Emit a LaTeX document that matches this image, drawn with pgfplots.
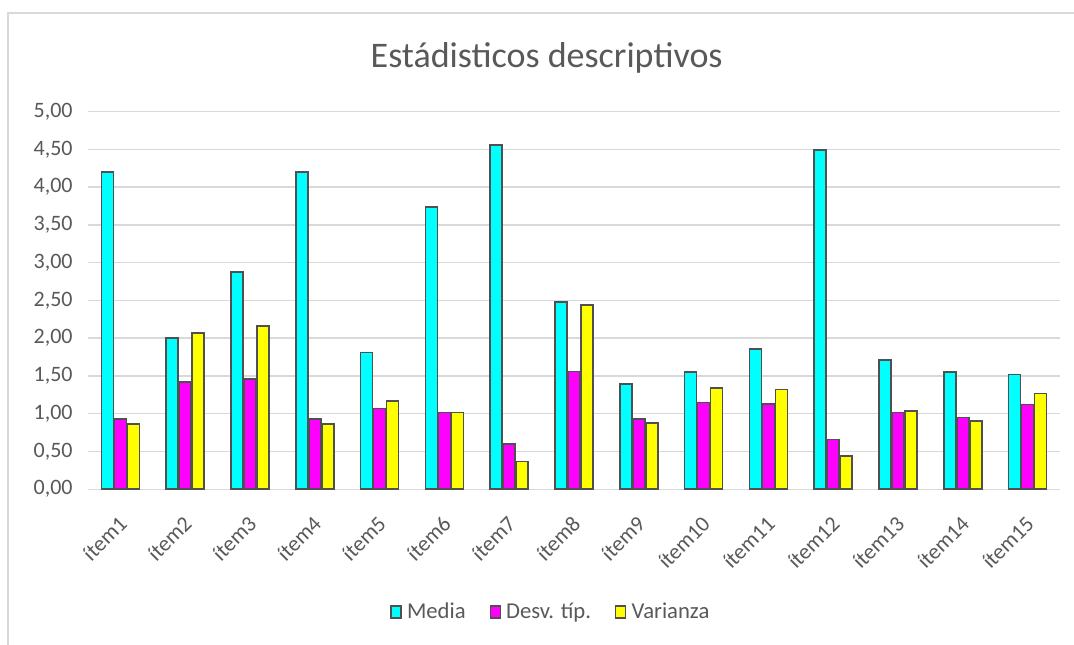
\documentclass[border=0pt]{standalone}
\usepackage{fontspec}
\setmainfont{Carlito}
\usepackage{pgfplots}
\pgfplotsset{compat=1.18}
\definecolor{txt}{RGB}{89,89,89}
\definecolor{gridc}{RGB}{217,217,217}
\definecolor{edge}{RGB}{80,80,80}
\definecolor{cmedia}{RGB}{0,255,255}
\definecolor{cdesv}{RGB}{255,0,255}
\definecolor{cvar}{RGB}{255,255,0}
\begin{document}
\begin{tikzpicture}[x=1pt,y=1pt]
\useasboundingbox (0,0) rectangle (805.5,483.75);
\fill[white] (0,0) rectangle (805.5,483.75);
\draw[gridc,line width=1.5pt] (6,-2) -- (6,474) -- (808,474);
\node[txt,font=\fontsize{27}{32}\selectfont] at (410,440) {Estádisticos descriptivos};
\begin{axis}[
  at={(66pt,116.8pt)}, anchor=south west,
  scale only axis, width=729pt, height=283.2pt,
  ybar=0.75pt, bar width=9pt,
  xmin=0.5, xmax=15.5, ymin=0, ymax=5,
  ytick={0,0.5,1,1.5,2,2.5,3,3.5,4,4.5,5},
  xtick={1,...,15},
  xticklabels={ítem1,ítem2,ítem3,ítem4,ítem5,ítem6,ítem7,ítem8,ítem9,ítem10,ítem11,ítem12,ítem13,ítem14,ítem15},
  ymajorgrids, grid style={gridc,line width=1.1pt},
  axis line style={draw=none},
  major tick length=0pt,
  tick label style={txt,font=\fontsize{16.5}{19}\selectfont},
  yticklabel={\pgfmathprintnumber[fixed,fixed zerofill,precision=2,use comma,assume math mode=true]{\tick}},
  yticklabel style={xshift=-8pt},
  xticklabel style={yshift=-23pt,xshift=2pt,rotate=45,anchor=east,inner sep=0pt},
  every axis plot/.append style={draw=edge,line width=1.2pt},
  legend style={at={(0.478,-0.325)},anchor=center,draw=none,fill=none,
    legend columns=3, font=\fontsize{17}{19}\selectfont, text=txt,
    nodes={inner xsep=4pt},
    /tikz/every even column/.append style={column sep=14pt}},
  legend image code/.code={\draw[#1,line width=0.9pt] (0pt,-4.5pt) rectangle (7.5pt,4.5pt);},
]
\addplot[fill=cmedia] coordinates {(1,4.20) (2,2.00) (3,2.88) (4,4.20) (5,1.81) (6,3.74) (7,4.56) (8,2.48) (9,1.39) (10,1.55) (11,1.86) (12,4.49) (13,1.71) (14,1.55) (15,1.52)};
\addplot[fill=cdesv] coordinates {(1,0.93) (2,1.42) (3,1.46) (4,0.93) (5,1.07) (6,1.015) (7,0.60) (8,1.56) (9,0.93) (10,1.15) (11,1.13) (12,0.66) (13,1.015) (14,0.95) (15,1.12)};
\addplot[fill=cvar] coordinates {(1,0.865) (2,2.07) (3,2.16) (4,0.865) (5,1.165) (6,1.015) (7,0.37) (8,2.44) (9,0.88) (10,1.34) (11,1.32) (12,0.44) (13,1.04) (14,0.90) (15,1.27)};
\legend{Media,Desv. típ.,Varianza}
\end{axis}
\end{tikzpicture}
\end{document}
